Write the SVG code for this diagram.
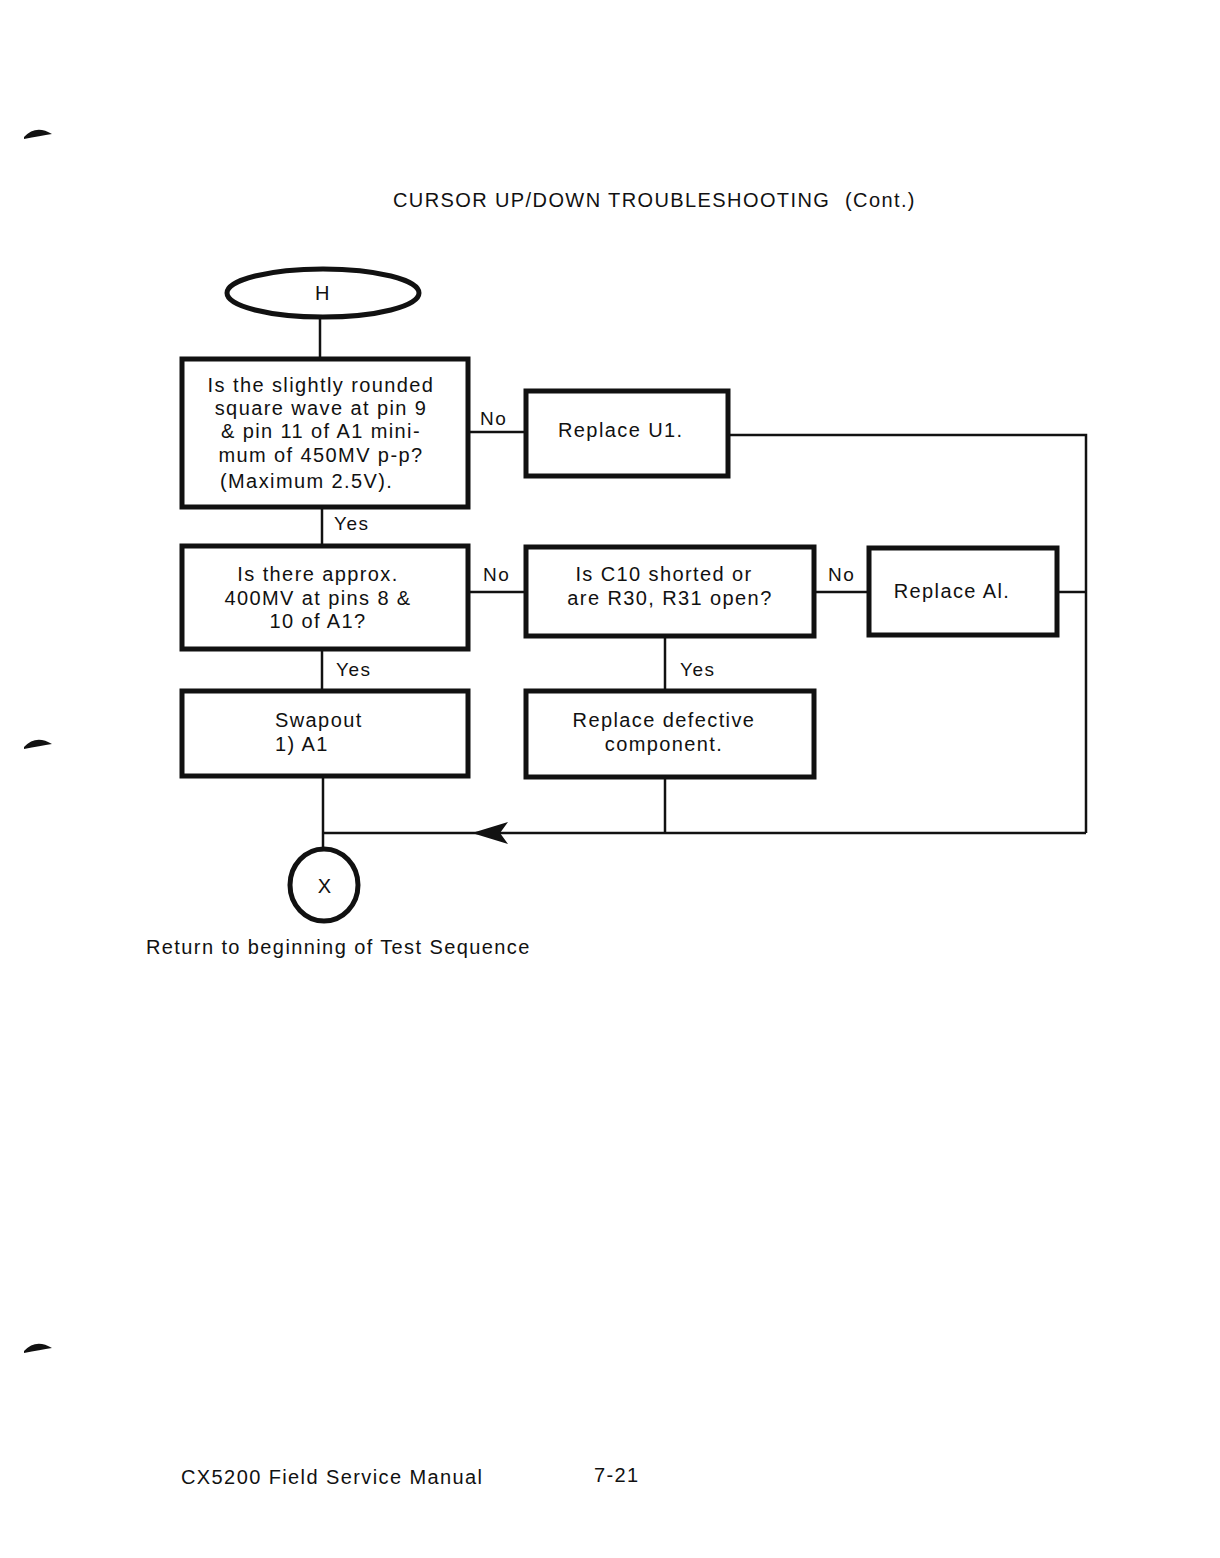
<svg xmlns="http://www.w3.org/2000/svg" width="1220" height="1558" viewBox="0 0 1220 1558">
<style>
.bg{fill:#ffffff}
.box{fill:#ffffff;stroke:#111;stroke-width:5}
.ln{fill:none;stroke:#111;stroke-width:2.5}
.t{font-family:"Liberation Sans",Arial,sans-serif;font-size:20px;fill:#111;letter-spacing:1.4px}
.c{text-anchor:middle}
.lbl{font-family:"Liberation Sans",Arial,sans-serif;font-size:19px;fill:#111;letter-spacing:1.5px}
</style>
<rect class="bg" x="0" y="0" width="1220" height="1558"/>
<path d="M24,137 Q36,124 52,134 Q40,136 24,139 Z" fill="#111"/>
<path d="M24,747 Q36,734 52,744 Q40,746 24,749 Z" fill="#111"/>
<path d="M24,1351 Q36,1338 52,1348 Q40,1350 24,1353 Z" fill="#111"/>
<text class="t" x="393" y="207">CURSOR UP/DOWN TROUBLESHOOTING<tspan x="845">(Cont.)</tspan></text>
<g id="connectors">
<path class="ln" d="M320,317 V358"/>
<path class="ln" d="M470,432 H525"/>
<path class="ln" d="M729,435 H1086 V833"/>
<path class="ln" d="M322,508 V545"/>
<path class="ln" d="M470,592 H525"/>
<path class="ln" d="M815,592 H868"/>
<path class="ln" d="M1058,592 H1086"/>
<path class="ln" d="M322,650 V690"/>
<path class="ln" d="M665,637 V690"/>
<path class="ln" d="M323,777 V850"/>
<path class="ln" d="M665,778 V833"/>
<path class="ln" d="M1086,833 H323"/>
<path d="M472,833 L508,822 L500,833 L508,844 Z" fill="#111"/>
<text class="lbl" x="480" y="425">No</text>
<text class="lbl" x="483" y="581">No</text>
<text class="lbl" x="828" y="581">No</text>
<text class="lbl" x="334" y="530">Yes</text>
<text class="lbl" x="336" y="676">Yes</text>
<text class="lbl" x="680" y="676">Yes</text>
</g>
<g id="nodeH">
<ellipse cx="323" cy="293" rx="96" ry="24" fill="#fff" stroke="#111" stroke-width="5"/>
<text class="t c" x="323" y="300">H</text>
</g>
<g id="q1">
<rect class="box" x="182" y="359" width="286" height="148"/>
<text class="t c" x="321" y="392">Is the slightly rounded</text>
<text class="t c" x="321" y="415">square wave at pin 9</text>
<text class="t c" x="321" y="438">&amp; pin 11 of A1 mini-</text>
<text class="t c" x="321" y="462">mum of 450MV p-p?</text>
<text class="t" x="220" y="488">(Maximum  2.5V).</text>
</g>
<g id="replaceU1">
<rect class="box" x="526" y="391" width="202" height="85"/>
<text class="t" x="558" y="437">Replace U1.</text>
</g>
<g id="q2">
<rect class="box" x="182" y="546" width="286" height="103"/>
<text class="t c" x="318" y="581">Is there approx.</text>
<text class="t c" x="318" y="605">400MV at pins 8 &amp;</text>
<text class="t c" x="318" y="628">10 of A1?</text>
</g>
<g id="q3">
<rect class="box" x="526" y="547" width="288" height="89"/>
<text class="t c" x="664" y="581">Is C10 shorted or</text>
<text class="t c" x="670" y="605">are R30, R31 open?</text>
</g>
<g id="replaceA1">
<rect class="box" x="869" y="548" width="188" height="87"/>
<text class="t c" x="952" y="598">Replace Al.</text>
</g>
<g id="swapout">
<rect class="box" x="182" y="691" width="286" height="85"/>
<text class="t" x="275" y="727">Swapout</text>
<text class="t" x="275" y="751">1) A1</text>
</g>
<g id="replaceDefective">
<rect class="box" x="526" y="691" width="288" height="86"/>
<text class="t c" x="664" y="727">Replace defective</text>
<text class="t c" x="664" y="751">component.</text>
</g>
<g id="nodeX">
<ellipse cx="324" cy="885" rx="34" ry="36" fill="#fff" stroke="#111" stroke-width="5"/>
<text class="t c" x="325" y="893">X</text>
</g>
<text class="t" x="146" y="954">Return to beginning of Test Sequence</text>
<text class="t" x="181" y="1484">CX5200 Field Service Manual</text>
<text class="t" x="594" y="1482">7-21</text>
</svg>
